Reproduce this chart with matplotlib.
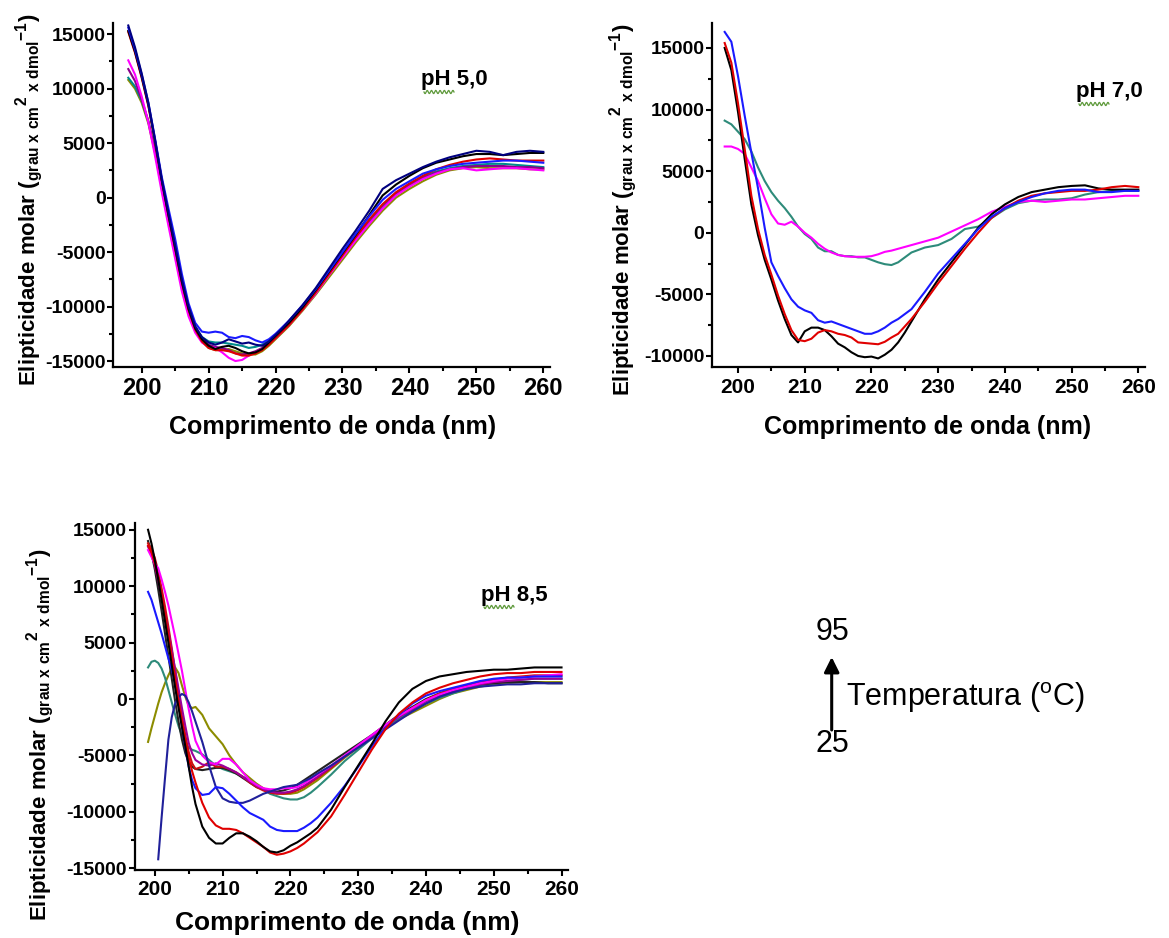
import numpy as np
import matplotlib
matplotlib.use("Agg")
import matplotlib.pyplot as plt
from matplotlib.ticker import MultipleLocator
from matplotlib.lines import Line2D
from matplotlib.patches import FancyArrowPatch

plt.rcParams['font.family'] = ['Liberation Sans', 'DejaVu Sans']
plt.rcParams['axes.unicode_minus'] = False
plt.rcParams['mathtext.fontset'] = 'custom'
plt.rcParams['mathtext.rm'] = 'Liberation Sans:bold'
plt.rcParams['mathtext.it'] = 'Liberation Sans:bold'
plt.rcParams['mathtext.bf'] = 'Liberation Sans:bold'

# ---------------- data ----------------
# pH 5,0
wl_ph50 = [198, 199, 200, 201, 202, 203, 204, 205, 206, 207, 208, 209, 210, 211, 212, 213, 214, 215,
           216, 217, 218, 219, 220, 221, 222, 223, 224, 226, 228, 230, 232, 234, 236, 238, 240, 242,
           244, 246, 248, 250, 252, 254, 256, 258, 260]
ph50_black = [15300, 13400, 11100, 8500, 5200, 1600, -1600, -4600, -7700, -10200, -12000, -13000, -13600,
              -13900, -13700, -13600, -13800, -14100, -14300, -14200, -13900, -13300, -12700, -12100, -11500,
              -10800, -10100, -8500, -6800, -5100, -3400, -1600, 200, 1200, 2000, 2700, 3200, 3500, 3800,
              4000, 4000, 3900, 4000, 4100, 4100]
ph50_navy = [15800, 13800, 11400, 8700, 5300, 1700, -1400, -4400, -7500, -10000, -11800, -12800, -13300,
             -13500, -13300, -13000, -13200, -13400, -13300, -13500, -13600, -13200, -12600, -12000, -11300,
             -10600, -9900, -8300, -6500, -4700, -3000, -1200, 800, 1600, 2200, 2800, 3300, 3700, 4000,
             4300, 4200, 3900, 4200, 4300, 4200]
ph50_blue = [15600, 13600, 11300, 8700, 5400, 1900, -1000, -3800, -7000, -9700, -11500, -12300, -12400,
             -12300, -12400, -12800, -12900, -12700, -12800, -13100, -13300, -13000, -12500, -11900, -11300,
             -10600, -9900, -8400, -6700, -5000, -3300, -1700, -200, 800, 1500, 2200, 2600, 2900, 3100,
             3200, 3300, 3400, 3400, 3300, 3200]
ph50_red = [15200, 13300, 11000, 8400, 5100, 1600, -1600, -4700, -7800, -10300, -12100, -13200, -13800,
            -14000, -14000, -14100, -14300, -14500, -14500, -14300, -14000, -13500, -12900, -12300, -11700,
            -11000, -10300, -8700, -7000, -5300, -3600, -2000, -600, 500, 1300, 2000, 2600, 3000, 3300,
            3500, 3600, 3500, 3400, 3400, 3400]
ph50_magenta = [12600, 11300, 9300, 6900, 3800, 500, -2600, -5600, -8600, -10900, -12400, -13300, -13700,
                -13800, -14200, -14700, -15000, -14900, -14500, -14200, -13900, -13400, -12900, -12300,
                -11700, -11000, -10300, -8800, -7100, -5500, -3900, -2400, -1000, 200, 1000, 1700, 2200,
                2600, 2700, 2500, 2600, 2700, 2700, 2600, 2500]
ph50_olive = [10800, 10000, 8700, 6800, 4100, 1000, -2000, -5100, -8100, -10500, -12100, -13200, -13800,
              -14000, -14000, -13900, -14100, -14300, -14400, -14400, -14100, -13600, -13000, -12400, -11800,
              -11100, -10400, -8900, -7300, -5700, -4100, -2600, -1200, 0, 800, 1500, 2100, 2500, 2700,
              2800, 2700, 2700, 2700, 2600, 2600]
ph50_teal = [11000, 10200, 8900, 7000, 4300, 1200, -1800, -4900, -7900, -10300, -11900, -12800, -13200,
             -13300, -13300, -13400, -13500, -13600, -13800, -13700, -13500, -13100, -12600, -12000, -11400,
             -10700, -10000, -8500, -6900, -5200, -3600, -2100, -700, 400, 1200, 1900, 2400, 2700, 2900,
             3000, 3100, 3100, 3000, 2900, 2800]
ph50_purple = [11800, 10700, 9000, 7000, 4200, 1100, -2000, -5000, -8000, -10400, -12000, -13000, -13500,
               -13700, -13800, -14000, -14300, -14400, -14300, -14100, -13800, -13300, -12800, -12200,
               -11600, -10900, -10200, -8700, -7000, -5400, -3800, -2300, -900, 300, 1100, 1800, 2300,
               2600, 2800, 2900, 2900, 2900, 2800, 2800, 2700]

# pH 7,0
wl_ph70 = [198, 199, 200, 201, 202, 203, 204, 205, 206, 207, 208, 209, 210, 211, 212, 213, 214, 215,
           216, 217, 218, 219, 220, 221, 222, 223, 224, 225, 226, 228, 230, 232, 234, 236, 238, 240,
           242, 244, 246, 248, 250, 252, 254, 256, 258, 260]
ph70_teal = [9100, 8800, 8200, 7600, 6600, 5300, 4200, 3300, 2600, 2000, 1300, 500, -100, -500, -1200,
             -1500, -1500, -1800, -1900, -1900, -2000, -2000, -2200, -2400, -2550, -2620, -2400, -2000,
             -1600, -1200, -1000, -500, 300, 500, 1200, 1900, 2400, 2600, 2700, 2700, 2800, 3100, 3300,
             3400, 3400, 3400]
ph70_magenta = [7000, 7000, 6800, 6400, 5300, 4200, 2800, 1500, 750, 650, 900, 500, 0, -400, -900, -1300,
                -1600, -1800, -1900, -1950, -1950, -1950, -1900, -1750, -1550, -1450, -1300, -1150, -1000,
                -700, -400, 100, 600, 1100, 1700, 2100, 2500, 2600, 2500, 2600, 2700, 2700, 2800, 2900,
                3000, 3000]
ph70_blue = [16300, 15500, 12700, 9500, 6500, 3600, 400, -2400, -3500, -4500, -5400, -6000, -6300, -6500,
             -7100, -7300, -7200, -7400, -7600, -7800, -8000, -8200, -8200, -8000, -7700, -7300, -7000,
             -6600, -6200, -4800, -3300, -2100, -900, 300, 1300, 2000, 2500, 2900, 3200, 3400, 3500, 3500,
             3300, 3300, 3400, 3400]
ph70_red = [15400, 13800, 10500, 6800, 3000, 300, -1800, -3400, -5100, -6600, -7900, -8700, -8800, -8600,
            -8100, -7900, -8000, -8200, -8300, -8500, -8900, -8950, -9000, -9050, -8850, -8500, -8200,
            -7600, -7000, -5600, -4100, -2700, -1300, 0, 1200, 2000, 2600, 3000, 3200, 3300, 3400, 3400,
            3500, 3700, 3800, 3700]
ph70_black = [15000, 13200, 9800, 6000, 2300, -200, -2200, -3800, -5500, -7000, -8300, -8900, -8000, -7700,
              -7700, -7900, -8400, -9000, -9300, -9700, -10000, -10100, -10050, -10200, -9900, -9500,
              -8900, -8100, -7200, -5400, -3800, -2400, -1000, 400, 1500, 2300, 2900, 3300, 3500, 3700,
              3800, 3850, 3600, 3500, 3500, 3500]

# pH 8,5
nan = float('nan')
wl_ph85 = [199, 199.5, 200, 200.5, 201, 201.5, 202, 202.5, 203, 203.5, 204, 204.5, 205, 205.5, 206,
           207, 208, 209, 210, 211, 212, 213, 214, 215, 216, 217, 218, 219, 220, 221, 222, 223, 224,
           226, 228, 230, 232, 234, 236, 238, 240, 242, 244, 246, 248, 250, 252, 254, 256, 258, 260]
ph85_olive = [-3800, -2600, -1500, -400, 600, 1400, 2100, 2700, 2800, 2300, 1200, 200, -600, -800, -700,
              -1400, -2600, -3300, -4000, -5000, -5800, -6500, -7000, -7500, -7900, -8200, -8300, -8400,
              -8400, -8300, -8000, -7600, -7200, -6200, -5200, -4300, -3400, -2500, -1800, -1200, -600, 0,
              500, 800, 1100, 1300, 1400, 1500, 1500, 1500, 1500]
ph85_teal = [2800, 3300, 3400, 3200, 2700, 1900, 800, -300, -1400, -2400, -3200, -3900, -4300, -4500,
             -4600, -4900, -5400, -5900, -6200, -6400, -6600, -6900, -7200, -7600, -8000, -8400, -8600,
             -8800, -8900, -8900, -8700, -8300, -7800, -6700, -5500, -4500, -3500, -2500, -1700, -1000,
             -400, 100, 500, 900, 1200, 1400, 1600, 1700, 1800, 1800, 1800]
ph85_black2 = [14000, 13000, 11500, 9700, 7800, 5800, 3800, 1800, -200, -2000, -3600, -4800, -5600, -6000,
               -6200, -6300, -6200, -6100, -6100, -6300, -6600, -7000, -7400, -7800, -8000, -8200, -8200,
               -8100, -7900, -7600, -7200, -6800, -6400, -5600, -4800, -4000, -3200, -2300, -1400, -700, 0,
               500, 900, 1100, 1300, 1400, 1500, 1500, 1500, 1400, 1400]
ph85_red2 = [13800, 13300, 12500, 11300, 9800, 8200, 6400, 4500, 2500, 500, -1500, -3200, -4700, -5700,
             -6200, -6000, -5600, -6000, -6000, -6200, -6500, -6900, -7400, -7800, -8100, -8300, -8400,
             -8400, -8300, -8100, -7800, -7400, -7000, -6100, -5100, -4200, -3300, -2300, -1500, -800,
             -100, 500, 900, 1200, 1500, 1700, 1900, 2000, 2100, 2100, 2100]
ph85_purple = [13500, 12800, 11800, 10500, 9000, 7500, 6000, 4300, 2600, 900, -800, -2400, -3900, -4800,
               -5400, -5800, -5900, -5700, -5900, -6200, -6500, -6900, -7300, -7700, -8000, -8200, -8300,
               -8300, -8200, -8000, -7700, -7300, -6900, -6000, -5100, -4200, -3300, -2400, -1600, -900,
               -200, 300, 700, 1000, 1300, 1500, 1600, 1700, 1800, 1800, 1800]
ph85_magenta = [13200, 12600, 12000, 11600, 10600, 9500, 8300, 6900, 5500, 4000, 2500, 800, -900, -2400,
                -3700, -5000, -5600, -5800, -5300, -5300, -5800, -6500, -7200, -7600, -7900, -8000, -8000,
                -7900, -7900, -7800, -7500, -7100, -6700, -5900, -5000, -4100, -3200, -2300, -1500, -800,
                -100, 400, 800, 1100, 1400, 1600, 1800, 1900, 2000, 2100, 2200]
ph85_navy = [nan, nan, nan, -14200, -10500, -7000, -3600, -1600, -400, 200, 450, 300, -300, -1100, -2000,
             -3800, -5900, -7800, -8800, -9100, -9200, -9200, -9000, -8700, -8400, -8200, -8000, -7800,
             -7700, -7600, -7300, -7000, -6600, -5900, -5100, -4300, -3500, -2700, -1900, -1100, -400, 200,
             600, 900, 1100, 1200, 1300, 1300, 1400, 1400, 1400]
ph85_blue = [9500, 8800, 7800, 6800, 5800, 4700, 3600, 2600, 1400, -300, -2400, -4300, -6000, -7200, -7900,
             -8500, -8400, -7800, -7900, -8400, -9000, -9600, -10100, -10400, -10700, -11300, -11600,
             -11700, -11700, -11700, -11400, -11000, -10500, -9200, -7700, -6000, -4200, -2600, -1400, -400,
             300, 700, 1000, 1300, 1600, 1800, 1900, 1900, 2000, 2000, 2000]
ph85_red = [13600, 13000, 12000, 10700, 9200, 7500, 5700, 3800, 1800, -200, -2000, -3700, -5200, -6400,
            -7400, -9200, -10500, -11200, -11500, -11500, -11600, -11900, -12300, -12700, -13100, -13600,
            -13800, -13700, -13500, -13200, -12800, -12300, -11800, -10400, -8500, -6500, -4500, -2700,
            -1300, -300, 500, 1000, 1400, 1700, 2000, 2200, 2300, 2300, 2400, 2400, 2400]
ph85_black = [15000, 13800, 12300, 10600, 8800, 6900, 5000, 3000, 1000, -800, -2500, -4200, -6000, -7800,
              -9300, -11300, -12300, -12800, -12800, -12300, -11900, -11900, -12200, -12600, -13100, -13500,
              -13600, -13400, -13000, -12700, -12300, -11900, -11400, -9800, -7800, -5900, -4000, -2000,
              -300, 900, 1600, 2000, 2200, 2400, 2500, 2600, 2600, 2700, 2800, 2800, 2800]

panel_labels = ["pH 5,0", "pH 7,0", "pH 8,5"]
x_title = "Comprimento de onda (nm)"
y_title = (r"Elipticidade molar ($_{\mathrm{grau\ x\ cm}}{}^{\mathrm{2}}"
           r"{}_{\mathrm{\ x\ dmol}}{}^{\mathrm{-1}}$)")
temp_low, temp_high = "25", "95"
temp_label = r"Temperatura ($^{\mathregular{o}}$C)"

# ---------------- layout ----------------
W, H = 1169, 938
fig = plt.figure(figsize=(W / 100, H / 100), dpi=100)
fig.patch.set_facecolor('white')


def fx(px):
    return px / W


def fy(py):
    return 1 - py / H


def make_axes(l, r, t, b, xlim, ylim, xtick_fs):
    ax = fig.add_axes([fx(l), fy(b), (r - l) / W, (b - t) / H])
    ax.set_xlim(*xlim)
    ax.set_ylim(*ylim)
    for s in ('top', 'right'):
        ax.spines[s].set_visible(False)
    for s in ('left', 'bottom'):
        ax.spines[s].set_linewidth(1.6)
    ax.xaxis.set_major_locator(MultipleLocator(10))
    ax.xaxis.set_minor_locator(MultipleLocator(5))
    ax.yaxis.set_major_locator(MultipleLocator(5000))
    ax.yaxis.set_minor_locator(MultipleLocator(2500))
    ax.tick_params(which='major', direction='out', length=4.5, width=1.5)
    ax.tick_params(which='minor', direction='out', length=3.0, width=1.5)
    ax.tick_params(axis='x', which='major', pad=3, labelsize=xtick_fs)
    ax.tick_params(axis='y', which='major', pad=1, labelsize=14)
    for lab in ax.get_xticklabels() + ax.get_yticklabels():
        lab.set_fontweight('bold')
    return ax


def wavy(x0, x1, y0, color='#5f9a3c'):
    xs = np.linspace(x0, x1, 60)
    ys = y0 + 1.6 * np.sin((xs - x0) / (x1 - x0) * 2 * np.pi * 7)
    fig.add_artist(Line2D(fx(xs), fy(ys), color=color, lw=0.9))


# Panel pH 5,0
ax1 = make_axes(113.3, 550, 23.3, 366.7, (195.76, 261.0), (-15520, 16000), 17)
for ys, c in [(ph50_olive, '#8c8c00'), (ph50_teal, '#008b8b'), (ph50_purple, '#8b008b'),
              (ph50_magenta, '#ff00ff'), (ph50_red, '#e00000'), (ph50_black, '#000000'),
              (ph50_blue, '#1a1aff'), (ph50_navy, '#000080')]:
    ax1.plot(wl_ph50, ys, color=c, lw=1.5)

# Panel pH 7,0
ax2 = make_axes(712, 1145, 23.3, 367.3, (196.1, 261.0), (-10920, 17000), 15)
for ys, c in [(ph70_teal, '#2e8b7a'), (ph70_magenta, '#ff00ff'), (ph70_black, '#000000'),
              (ph70_red, '#e00000'), (ph70_blue, '#1a1aff')]:
    ax2.plot(wl_ph70, ys, color=c, lw=1.5)

# Panel pH 8,5
ax3 = make_axes(134.5, 568.3, 523, 870, (197.0, 261.0), (-15150, 15600), 15)
for ys, c in [(ph85_olive, '#8c8c00'), (ph85_teal, '#2e8b7a'), (ph85_black2, '#222222'),
              (ph85_red2, '#cc1010'), (ph85_purple, '#9b009b'), (ph85_magenta, '#ff00ff'),
              (ph85_navy, '#20209a'), (ph85_blue, '#1a1aff'), (ph85_red, '#e00000'),
              (ph85_black, '#000000')]:
    ax3.plot(wl_ph85, ys, color=c, lw=1.5)

# axis titles
fig.text(fx(332.5), fy(426.7), x_title, fontsize=18, fontweight='bold', ha='center', va='center')
fig.text(fx(927.5), fy(426.7), x_title, fontsize=18, fontweight='bold', ha='center', va='center')
fig.text(fx(347.5), fy(923.3), x_title, fontsize=19, fontweight='bold', ha='center', va='center')

fig.text(fx(29), fy(200), y_title, fontsize=16, fontweight='bold', rotation=90, ha='center', va='center')
fig.text(fx(623), fy(210), y_title, fontsize=16, fontweight='bold', rotation=90, ha='center', va='center')
fig.text(fx(40), fy(735), y_title, fontsize=16, fontweight='bold', rotation=90, ha='center', va='center')

# pH labels
for (tx, ty), lab in zip([(421, 80), (1076, 92), (481, 595)], panel_labels):
    fig.text(fx(tx), fy(ty), lab, fontsize=16, fontweight='bold', ha='left', va='center')
    wavy(tx + 3, tx + 33, ty + 12)

# temperature annotation
fig.text(fx(832.5), fy(632), temp_high, fontsize=22, ha='center', va='center')
fig.text(fx(832.5), fy(744), temp_low, fontsize=22, ha='center', va='center')
fig.text(fx(846), fy(698), temp_label, fontsize=22, ha='left', va='center')
fig.add_artist(FancyArrowPatch(
    (fx(831.7), fy(730)), (fx(831.7), fy(657)), transform=fig.transFigure,
    arrowstyle='-|>,head_length=9,head_width=4.5', color='black', lw=2.2, mutation_scale=1,
    shrinkA=0, shrinkB=0))

fig.savefig('out.png', dpi=100, facecolor='white')
